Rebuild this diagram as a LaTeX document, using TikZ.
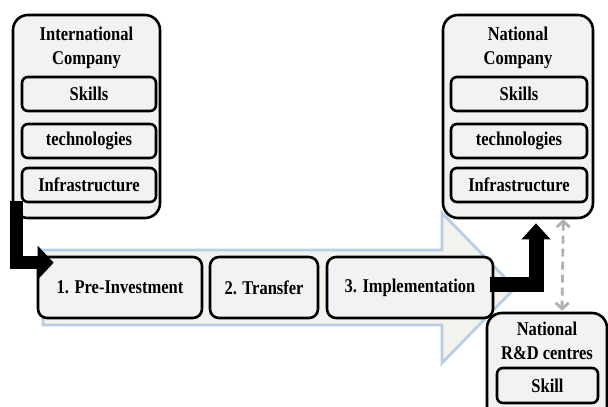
\documentclass[tikz,border=0pt]{standalone}
\usepackage{fontspec}
\setmainfont{Liberation Serif}
\usepackage{graphicx}
\usetikzlibrary{arrows.meta,calc}
\definecolor{boxgray}{HTML}{F2F2F2}
\definecolor{arrfill}{HTML}{F3F3EE}
\definecolor{arrblue}{HTML}{B9CDE5}
\definecolor{dashgray}{HTML}{B0B0B0}
\newcommand{\tl}[1]{\scalebox{1}[1.18]{#1}}
\begin{document}
\begin{tikzpicture}[x=1pt,y=-1pt,
  txt/.style={font=\bfseries\fontsize{16.5}{23.5}\selectfont},
  outer/.style={draw=black,line width=2.6pt,rounded corners=15pt,fill=boxgray,inner sep=0pt},
  inbox/.style={txt,draw=black,line width=2.6pt,rounded corners=6pt,fill=boxgray,inner sep=0pt},
  stepbox/.style={txt,draw=black,line width=2.6pt,rounded corners=9pt,fill=boxgray,inner sep=0pt,minimum height=61pt},
  title/.style={txt,align=center,inner sep=0pt},
  blk/.style={draw=black,-{Triangle[length=16pt,width=33pt]}},
  dsh/.style={draw=dashgray,line width=2.8pt,dash pattern=on 8pt off 5pt,{Straight Barb[length=6pt,width=13pt]}-{Straight Barb[length=6pt,width=13pt]}}
]
\useasboundingbox (0,0) rectangle (608,407);
\clip (0,0) rectangle (608,407);
% big background arrow
\draw[draw=arrblue,fill=arrfill,line width=2.8pt,line join=miter]
  (43,250) -- (442,250) -- (442,213) -- (515,288) -- (442,363) -- (442,325) -- (43,325) -- cycle;
% international company
\node[outer,minimum width=147pt,minimum height=203pt] (intl) at (86.5,116.5) {};
\node[title] (intlT) at (86.5,48) {\tl{International}\\\tl{Company}};
\node[inbox,minimum width=134pt,minimum height=34pt] (iskills) at (89,94) {\tl{Skills}};
\node[inbox,minimum width=134pt,minimum height=34pt] (itech) at (89,141) {\tl{technologies}};
\node[inbox,minimum width=134pt,minimum height=34pt] (iinfra) at (89,185) {\tl{Infrastructure}};
% national company
\node[outer,minimum width=150pt,minimum height=203pt] (natC) at (518,116.5) {};
\node[title] (natT) at (518,48) {\tl{National}\\\tl{Company}};
\node[inbox,minimum width=136pt,minimum height=34pt] (nskills) at (519,94) {\tl{Skills}};
\node[inbox,minimum width=136pt,minimum height=34pt] (ntech) at (519,141) {\tl{technologies}};
\node[inbox,minimum width=136pt,minimum height=34pt] (ninfra) at (519,185) {\tl{Infrastructure}};
% steps
\node[stepbox,minimum width=164pt] (pre) at (120,287.5) {\tl{1. Pre-Investment}};
\node[stepbox,minimum width=108pt] (trans) at (264,287.5) {\tl{2. Transfer}};
\node[stepbox,minimum width=166pt] (impl) at (410,287.5) {\tl{3. Implementation}};
% R&D centres
\node[outer,minimum width=120pt,minimum height=114pt] (rd) at (547,370) {};
\node[title] (rdT) at (547,341) {\tl{National}\\\tl{R\&D centres}};
\node[inbox,minimum width=101pt,minimum height=35pt] (rskill) at (547.5,385.5) {\tl{Skill}};
% connectors
\coordinate (a1s) at ([xshift=4.5pt,yshift=18pt]intl.south west);
\coordinate (a1e) at ([xshift=17pt,yshift=-7pt]pre.north west);
\draw[blk,line width=13pt] (a1s) |- (a1e);
\coordinate (a2s) at ([xshift=-4pt,yshift=3.5pt]impl.east);
\coordinate (a2e) at ([xshift=18pt,yshift=-4pt]natC.south);
\draw[blk,line width=15pt,-{Triangle[length=16pt,width=28pt]}] (a2s) -| (a2e);
\coordinate (d1) at ([xshift=-31pt,yshift=0pt]natC.south east);
\coordinate (d2) at ([xshift=15pt,yshift=1pt]rd.north);
\draw[dsh] (d1) -- (d2);
\end{tikzpicture}
\end{document}
